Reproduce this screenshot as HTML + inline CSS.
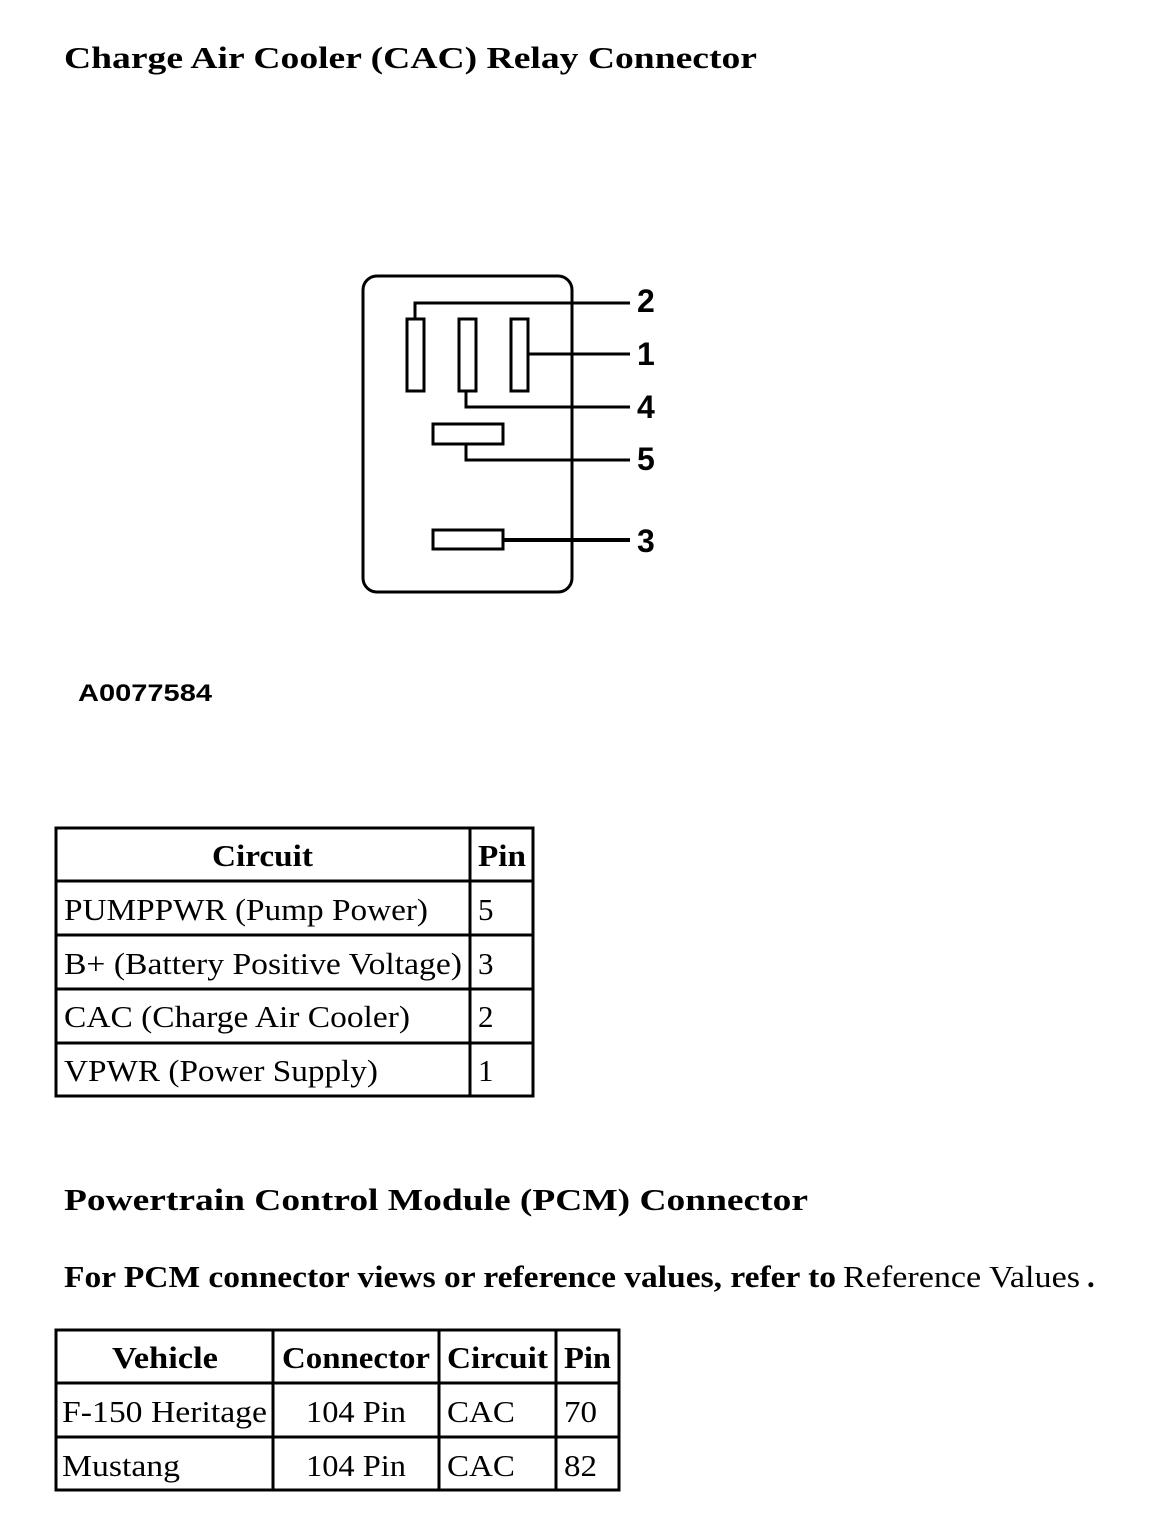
<!DOCTYPE html>
<html><head><style>
html,body{margin:0;padding:0;background:#fff;}
svg{display:block;}
.s{font-family:"Liberation Serif",serif;font-size:31px;fill:#000;}
.b{font-weight:bold;}
.a{font-family:"Liberation Sans",sans-serif;font-weight:bold;fill:#000;}
</style></head><body>
<svg width="1152" height="1538" viewBox="0 0 1152 1538" xmlns="http://www.w3.org/2000/svg">
<text x="64" y="68" class="s b" font-size="32" textLength="693" lengthAdjust="spacingAndGlyphs">Charge Air Cooler (CAC) Relay Connector</text>

<g fill="none" stroke="#000" stroke-width="3">
<rect x="363" y="276" width="209" height="316" rx="14"/>
<rect x="407" y="319" width="17" height="72"/>
<rect x="459" y="319" width="17" height="72"/>
<rect x="511" y="319" width="17" height="72"/>
<rect x="433" y="424" width="70" height="20"/>
<rect x="433" y="530" width="70" height="19"/>
<polyline points="415,319 415,303 630,303"/>
<line x1="528" y1="354" x2="630" y2="354"/>
<polyline points="466,391 466,407 630,407"/>
<polyline points="466,444 466,460 630,460"/>
<line x1="503" y1="540" x2="630" y2="540" stroke-width="4"/>
</g>
<g class="a" font-size="32">
<text x="637" y="312">2</text>
<text x="637" y="365">1</text>
<text x="637" y="418">4</text>
<text x="637" y="470">5</text>
<text x="637" y="552">3</text>
</g>
<text x="78" y="701" class="a" font-size="24" textLength="134" lengthAdjust="spacingAndGlyphs">A0077584</text>

<g fill="none" stroke="#000" stroke-width="3">
<rect x="56" y="828" width="477" height="268"/>
<line x1="470" y1="828" x2="470" y2="1096"/>
<line x1="56" y1="881" x2="533" y2="881"/>
<line x1="56" y1="935" x2="533" y2="935"/>
<line x1="56" y1="989" x2="533" y2="989"/>
<line x1="56" y1="1043" x2="533" y2="1043"/>
</g>
<text x="212" y="866" class="s b" textLength="101" lengthAdjust="spacingAndGlyphs">Circuit</text>
<text x="478" y="866" class="s b" textLength="48" lengthAdjust="spacingAndGlyphs">Pin</text>
<text x="64" y="920" class="s" textLength="364" lengthAdjust="spacingAndGlyphs">PUMPPWR (Pump Power)</text>
<text x="478" y="920" class="s">5</text>
<text x="64" y="974" class="s" textLength="398" lengthAdjust="spacingAndGlyphs">B+ (Battery Positive Voltage)</text>
<text x="478" y="974" class="s">3</text>
<text x="64" y="1027" class="s" textLength="346" lengthAdjust="spacingAndGlyphs">CAC (Charge Air Cooler)</text>
<text x="478" y="1027" class="s">2</text>
<text x="64" y="1081" class="s" textLength="314" lengthAdjust="spacingAndGlyphs">VPWR (Power Supply)</text>
<text x="478" y="1081" class="s">1</text>

<text x="64" y="1210" class="s b" font-size="32" textLength="744" lengthAdjust="spacingAndGlyphs">Powertrain Control Module (PCM) Connector</text>
<text x="64" y="1287" class="s b" font-size="30" textLength="772" lengthAdjust="spacingAndGlyphs">For PCM connector views or reference values, refer to</text>
<text x="843" y="1287" class="s" textLength="237" lengthAdjust="spacingAndGlyphs">Reference Values</text>
<text x="1087" y="1287" class="s b">.</text>

<g fill="none" stroke="#000" stroke-width="3">
<rect x="56" y="1330" width="563" height="160"/>
<line x1="273" y1="1330" x2="273" y2="1490"/>
<line x1="439" y1="1330" x2="439" y2="1490"/>
<line x1="556" y1="1330" x2="556" y2="1490"/>
<line x1="56" y1="1383" x2="619" y2="1383"/>
<line x1="56" y1="1437" x2="619" y2="1437"/>
</g>
<text x="112" y="1368" class="s b" textLength="106" lengthAdjust="spacingAndGlyphs">Vehicle</text>
<text x="282" y="1368" class="s b" textLength="148" lengthAdjust="spacingAndGlyphs">Connector</text>
<text x="447" y="1368" class="s b" textLength="101" lengthAdjust="spacingAndGlyphs">Circuit</text>
<text x="564" y="1368" class="s b" textLength="47" lengthAdjust="spacingAndGlyphs">Pin</text>
<text x="62" y="1422" class="s" textLength="205" lengthAdjust="spacingAndGlyphs">F-150 Heritage</text>
<text x="306" y="1422" class="s" textLength="100" lengthAdjust="spacingAndGlyphs">104 Pin</text>
<text x="447" y="1422" class="s" textLength="68" lengthAdjust="spacingAndGlyphs">CAC</text>
<text x="564" y="1422" class="s" textLength="33" lengthAdjust="spacingAndGlyphs">70</text>
<text x="62" y="1476" class="s" textLength="118" lengthAdjust="spacingAndGlyphs">Mustang</text>
<text x="306" y="1476" class="s" textLength="100" lengthAdjust="spacingAndGlyphs">104 Pin</text>
<text x="447" y="1476" class="s" textLength="68" lengthAdjust="spacingAndGlyphs">CAC</text>
<text x="564" y="1476" class="s" textLength="33" lengthAdjust="spacingAndGlyphs">82</text>
</svg>
</body></html>
